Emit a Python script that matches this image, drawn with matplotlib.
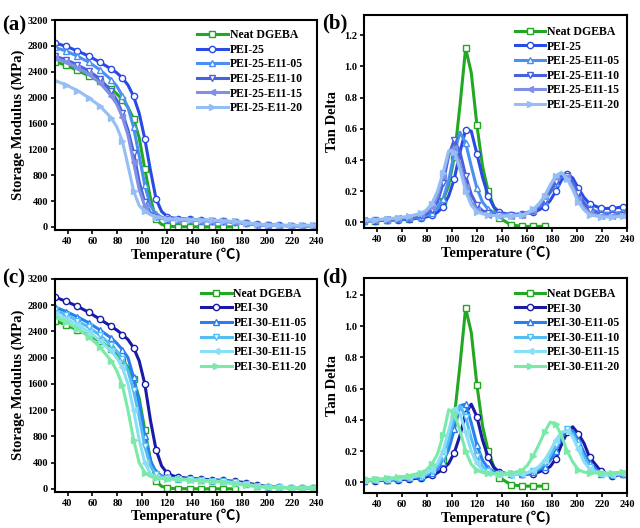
import numpy as np
import matplotlib
matplotlib.use("Agg")
from matplotlib import pyplot as plt

plt.rcParams['font.family'] = ['Liberation Serif', 'Noto Sans CJK SC']
plt.rcParams['font.weight'] = 'bold'
plt.rcParams['axes.labelweight'] = 'bold'

nan = np.nan

# temperature grids (degC)
T_mod = [30, 39, 48, 57, 66, 75, 79.5, 84, 88.5, 93, 97.5, 102, 106.5, 111, 115.5, 120, 124.5,
         129, 138, 147, 156, 165, 174, 183, 192, 201, 210, 219, 228, 237, 240]
T_tan = [30, 39, 48, 57, 66, 75, 79.5, 84, 88.5, 93, 97.5, 102, 106.5, 111, 115.5, 120, 124.5,
         129, 133.5, 138, 147, 156, 160.5, 165, 169.5, 174, 178.5, 183, 187.5, 192, 196.5,
         201, 205.5, 210, 219, 228, 237, 240]

# ---- storage modulus (MPa)
neat_mod = [2556, 2500, 2420, 2340, 2250, 2135, 2060, 1970, 1850, 1672, 1380, 900, 450, 118, 40, 15, 8,
            5, 3, 2, 2, 2, 2, nan, nan, nan, nan, nan, nan, nan, nan]
pei25_mod = [2845, 2795, 2720, 2645, 2548, 2443, 2385, 2305, 2195, 2021, 1760, 1363, 880, 437, 240, 160, 140,
             130, 120, 110, 100, 90, 80, 65, 45, 30, 25, 22, 20, 20, 20]
pei25_05_mod = [2777, 2720, 2640, 2550, 2430, 2280, 2180, 2030, 1850, 1543, 1100, 643, 330, 200, 150, 130, 120,
                115, 110, 100, 95, 90, 80, 60, 40, 30, 25, 22, 20, 20, 20]
pei25_10_mod = [2640, 2585, 2505, 2415, 2290, 2100, 1960, 1760, 1500, 1150, 700, 380, 220, 160, 135, 120, 115,
                110, 105, 100, 95, 85, 75, 55, 35, 25, 20, 18, 17, 17, 17]
pei25_15_mod = [2610, 2550, 2465, 2360, 2230, 2030, 1900, 1700, 1420, 1000, 580, 320, 200, 150, 130, 120, 115,
                110, 105, 100, 95, 85, 75, 55, 35, 25, 22, 20, 20, 20, 20]
pei25_20_mod = [2265, 2195, 2110, 2000, 1870, 1690, 1550, 1330, 950, 560, 330, 240, 190, 160, 140, 130, 125,
                120, 115, 110, 105, 95, 85, 65, 45, 30, 25, 25, 25, 28, 30]

pei30_mod = [2921, 2855, 2780, 2690, 2585, 2475, 2420, 2350, 2275, 2150, 1950, 1600, 1050, 600, 350, 240, 200,
             180, 160, 150, 140, 130, 115, 95, 60, 35, 25, 20, 18, 17, 17]
pei30_05_mod = [2770, 2700, 2620, 2530, 2420, 2300, 2220, 2120, 2000, 1700, 1300, 800, 430, 260, 200, 175, 165,
                155, 145, 135, 125, 115, 100, 75, 45, 30, 22, 20, 18, 17, 17]
pei30_10_mod = [2720, 2650, 2560, 2460, 2340, 2190, 2100, 1980, 1800, 1500, 1100, 650, 350, 220, 180, 165, 160,
                155, 145, 135, 125, 115, 100, 75, 45, 30, 22, 20, 18, 17, 17]
pei30_15_mod = [2660, 2590, 2500, 2390, 2260, 2100, 2000, 1850, 1600, 1200, 750, 400, 230, 180, 165, 160, 155,
                150, 140, 130, 120, 110, 95, 70, 40, 28, 22, 20, 18, 17, 17]
pei30_20_mod = [2620, 2540, 2440, 2320, 2160, 1950, 1800, 1580, 1200, 750, 400, 250, 190, 170, 160, 155, 150,
                145, 135, 125, 115, 100, 80, 55, 35, 25, 20, 18, 17, 17, 17]

# ---- tan delta
neat_tan = [0.010, 0.012, 0.015, 0.020, 0.025, 0.035, 0.045, 0.060, 0.090, 0.140, 0.240, 0.420, 0.750, 1.115,
            0.960, 0.625, 0.360, 0.200, 0.100, 0.030, -0.015, -0.025, -0.025, -0.025, -0.025, -0.025,
            nan, nan, nan, nan, nan, nan, nan, nan, nan, nan, nan, nan]
pei25_tan = [0.010, 0.012, 0.014, 0.017, 0.020, 0.030, 0.035, 0.045, 0.065, 0.100, 0.170, 0.280, 0.450, 0.595,
             0.585, 0.440, 0.290, 0.170, 0.100, 0.065, 0.050, 0.055, 0.058, 0.065, 0.080, 0.100, 0.140,
             0.200, 0.270, 0.310, 0.285, 0.220, 0.160, 0.120, 0.090, 0.090, 0.100, 0.100]
pei25_05_tan = [0.010, 0.013, 0.016, 0.020, 0.026, 0.035, 0.045, 0.060, 0.090, 0.150, 0.270, 0.450, 0.578, 0.510,
                0.360, 0.220, 0.130, 0.085, 0.065, 0.055, 0.050, 0.055, 0.065, 0.080, 0.100, 0.140, 0.190,
                0.250, 0.295, 0.290, 0.250, 0.190, 0.130, 0.090, 0.060, 0.060, 0.065, 0.065]
pei25_10_tan = [0.012, 0.015, 0.018, 0.023, 0.030, 0.042, 0.055, 0.080, 0.130, 0.250, 0.430, 0.530, 0.450, 0.300,
                0.180, 0.110, 0.075, 0.060, 0.052, 0.048, 0.045, 0.050, 0.060, 0.075, 0.100, 0.140, 0.200,
                0.260, 0.305, 0.300, 0.260, 0.190, 0.120, 0.080, 0.050, 0.045, 0.050, 0.050]
pei25_15_tan = [0.013, 0.017, 0.021, 0.027, 0.036, 0.052, 0.068, 0.100, 0.170, 0.300, 0.450, 0.480, 0.370, 0.230,
                0.130, 0.080, 0.060, 0.050, 0.045, 0.043, 0.042, 0.048, 0.058, 0.080, 0.110, 0.160, 0.230,
                0.290, 0.315, 0.290, 0.230, 0.150, 0.090, 0.060, 0.040, 0.040, 0.045, 0.045]
pei25_20_tan = [0.014, 0.018, 0.023, 0.030, 0.040, 0.058, 0.078, 0.120, 0.200, 0.320, 0.460, 0.450, 0.340, 0.200,
                0.110, 0.070, 0.055, 0.048, 0.045, 0.043, 0.042, 0.048, 0.060, 0.085, 0.120, 0.170, 0.240,
                0.300, 0.320, 0.280, 0.210, 0.130, 0.080, 0.050, 0.035, 0.035, 0.040, 0.040]

pei30_tan = [0.010, 0.011, 0.013, 0.016, 0.020, 0.028, 0.034, 0.045, 0.060, 0.085, 0.120, 0.190, 0.300, 0.440,
             0.500, 0.420, 0.270, 0.160, 0.095, 0.065, 0.050, 0.050, 0.052, 0.055, 0.065, 0.080, 0.100,
             0.150, 0.240, 0.320, 0.355, 0.310, 0.250, 0.160, 0.070, 0.040, 0.050, 0.055]
pei30_05_tan = [0.011, 0.013, 0.016, 0.020, 0.025, 0.035, 0.043, 0.058, 0.085, 0.130, 0.210, 0.340, 0.490, 0.500,
                0.380, 0.240, 0.140, 0.090, 0.068, 0.057, 0.050, 0.052, 0.056, 0.065, 0.080, 0.100, 0.140,
                0.200, 0.280, 0.340, 0.330, 0.270, 0.190, 0.120, 0.055, 0.045, 0.055, 0.060]
pei30_10_tan = [0.012, 0.014, 0.018, 0.022, 0.028, 0.040, 0.050, 0.070, 0.100, 0.160, 0.270, 0.420, 0.490, 0.420,
                0.280, 0.170, 0.100, 0.070, 0.058, 0.052, 0.048, 0.052, 0.058, 0.070, 0.090, 0.120, 0.170,
                0.240, 0.310, 0.340, 0.310, 0.240, 0.160, 0.100, 0.050, 0.045, 0.055, 0.060]
pei30_15_tan = [0.013, 0.016, 0.020, 0.025, 0.033, 0.046, 0.058, 0.080, 0.120, 0.200, 0.330, 0.470, 0.440, 0.320,
                0.200, 0.120, 0.080, 0.062, 0.055, 0.050, 0.048, 0.054, 0.062, 0.078, 0.100, 0.140, 0.200,
                0.270, 0.320, 0.330, 0.290, 0.210, 0.130, 0.085, 0.050, 0.048, 0.058, 0.060]
pei30_20_tan = [0.015, 0.019, 0.024, 0.031, 0.042, 0.060, 0.078, 0.115, 0.180, 0.300, 0.465, 0.440, 0.330, 0.200,
                0.115, 0.078, 0.062, 0.056, 0.053, 0.052, 0.058, 0.075, 0.110, 0.170, 0.240, 0.320, 0.385,
                0.370, 0.300, 0.200, 0.130, 0.080, 0.065, 0.060, 0.058, 0.060, 0.065, 0.065]

labels25 = ["Neat DGEBA", "PEI-25", "PEI-25-E11-05", "PEI-25-E11-10", "PEI-25-E11-15", "PEI-25-E11-20"]
labels30 = ["Neat DGEBA", "PEI-30", "PEI-30-E11-05", "PEI-30-E11-10", "PEI-30-E11-15", "PEI-30-E11-20"]
colors25 = ["#22a822", "#2a4ae6", "#4a90f0", "#4862de", "#8090e6", "#95bff4"]
colors30 = ["#22a822", "#1a1aa6", "#2a7ff0", "#55bdf5", "#8adff5", "#7aeaa8"]
markers = ["s", "o", "^", "v", "<", ">"]
hollow = [True, True, True, True, False, False]


def draw(ax, T, series, labels, colors):
    idx = [i for i, t in enumerate(T) if (t - 30) % 9 == 0]
    for y, lab, c, m, h in zip(series, labels, colors, markers, hollow):
        ax.plot(T, y, color=c, lw=2.2, marker=m, markevery=idx, ms=4.5,
                mfc="white" if h else c, mec=c, mew=1.0, label=lab)
    ax.set_xlim(30, 240)
    ax.set_xticks(range(40, 241, 20))
    ax.set_xlabel("Temperature (℃)", fontsize=10.5, labelpad=1)
    for s in ax.spines.values():
        s.set_linewidth(1.5)
    ax.tick_params(labelsize=7.5, width=1.2, length=3, pad=2)
    for lab in ax.get_xticklabels() + ax.get_yticklabels():
        lab.set_fontweight("bold")


fig = plt.figure(figsize=(6.4, 5.28), dpi=100)
ax_a = fig.add_axes([0.086, 0.564, 0.409, 0.398])
ax_b = fig.add_axes([0.569, 0.568, 0.411, 0.404])
ax_c = fig.add_axes([0.086, 0.069, 0.409, 0.403])
ax_d = fig.add_axes([0.569, 0.066, 0.411, 0.408])

draw(ax_a, T_mod, [neat_mod, pei25_mod, pei25_05_mod, pei25_10_mod, pei25_15_mod, pei25_20_mod], labels25, colors25)
draw(ax_b, T_tan, [neat_tan, pei25_tan, pei25_05_tan, pei25_10_tan, pei25_15_tan, pei25_20_tan], labels25, colors25)
draw(ax_c, T_mod, [neat_mod, pei30_mod, pei30_05_mod, pei30_10_mod, pei30_15_mod, pei30_20_mod], labels30, colors30)
draw(ax_d, T_tan, [neat_tan, pei30_tan, pei30_05_tan, pei30_10_tan, pei30_15_tan, pei30_20_tan], labels30, colors30)

for ax, lo in [(ax_a, -50), (ax_c, -40)]:
    ax.set_ylim(lo, 3200)
    ax.set_yticks(range(0, 3201, 400))
    ax.set_ylabel("Storage Modulus (MPa)", fontsize=10.5, labelpad=2)
ax_b.set_ylim(-0.036, 1.33)
ax_d.set_ylim(-0.07, 1.31)
for ax in (ax_b, ax_d):
    ax.set_yticks(np.arange(0, 1.21, 0.2))
    ax.set_yticklabels(["%.1f" % v for v in np.arange(0, 1.21, 0.2)], fontweight="bold")
    ax.set_ylabel("Tan Delta", fontsize=10.5, labelpad=4)

leg_kw = dict(frameon=False, handlelength=2.6, handletextpad=0.15, labelspacing=0.22,
              borderpad=0, loc="upper left", prop={"weight": "bold", "size": 8.5})
ax_a.legend(bbox_to_anchor=(0.52, 0.985), **leg_kw)
ax_b.legend(bbox_to_anchor=(0.55, 0.975), **leg_kw)
ax_c.legend(bbox_to_anchor=(0.535, 0.985), **leg_kw)
ax_d.legend(bbox_to_anchor=(0.55, 0.98), **leg_kw)

for x, y, t in [(0.003, 0.952, "(a)"), (0.503, 0.955, "(b)"), (0.003, 0.472, "(c)"), (0.503, 0.475, "(d)")]:
    fig.text(x, y, t, fontsize=15, fontweight="bold", va="center")

fig.savefig("out.png", dpi=100)
